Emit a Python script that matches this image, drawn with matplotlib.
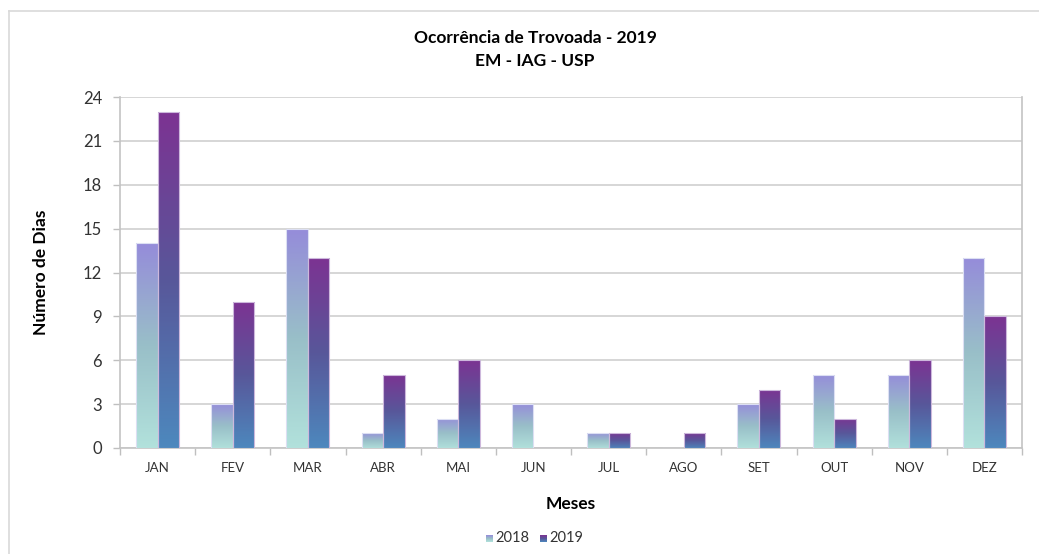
import numpy as np
import matplotlib
matplotlib.use("Agg")
import matplotlib.pyplot as plt
from matplotlib.colors import LinearSegmentedColormap
from matplotlib.lines import Line2D

plt.rcParams['font.family'] = ['Lato', 'DejaVu Sans']

months = ["JAN", "FEV", "MAR", "ABR", "MAI", "JUN", "JUL", "AGO", "SET", "OUT", "NOV", "DEZ"]
series_names = ["2018", "2019"]
values_2018 = [14, 3, 15, 1, 2, 3, 1, 0, 3, 5, 5, 13]
values_2019 = [23, 10, 13, 5, 6, 0, 1, 1, 4, 2, 6, 9]
yticks = [0, 3, 6, 9, 12, 15, 18, 21, 24]

cmap_2018 = LinearSegmentedColormap.from_list("c18", ["#b2e2dc", "#99bfc8", "#958bda"])
cmap_2019 = LinearSegmentedColormap.from_list("c19", ["#4d89be", "#58579a", "#7d3292"])

W, H = 1039, 554
fig = plt.figure(figsize=(W / 100, H / 100), dpi=100)
ax = fig.add_axes([120 / W, 1 - 448 / H, (1022 - 120) / W, (448 - 97) / H])

x = np.arange(len(months))
bw = 0.285
grad = np.linspace(0, 1, 256).reshape(-1, 1)

for vals, off, cmap, edge in [(values_2018, -bw / 2, cmap_2018, "#dcdff3"),
                              (values_2019, bw / 2, cmap_2019, "#cdb8dc")]:
    bars = ax.bar(x + off, vals, width=bw, facecolor="none", edgecolor=edge, lw=0.8, zorder=4)
    for b in bars:
        h = b.get_height()
        if h <= 0:
            continue
        x0 = b.get_x()
        im = ax.imshow(grad, cmap=cmap, origin="lower", aspect="auto",
                       extent=(x0 - 0.02, x0 + bw + 0.02, -0.1, h + 0.1), zorder=3,
                       interpolation="nearest")
        im.set_clip_path(b)

ax.set_xlim(-0.5, len(months) - 0.5)
ax.set_ylim(0, 24)
ax.set_yticks(yticks)
ax.set_yticklabels([str(t) for t in yticks], fontsize=12, color="#333333")
ax.set_xticks(x)
ax.set_xticklabels(months, fontsize=9.5, color="#333333")
ax.set_xticks(np.arange(-0.5, len(months)), minor=True)
ax.tick_params(axis="x", which="major", length=0, pad=10)
ax.tick_params(axis="x", which="minor", length=5, color="#bfbfbf", width=1)
ax.tick_params(axis="y", length=5, color="#bfbfbf", width=1, pad=8)
ax.grid(axis="y", color="#d0d0d0", lw=1.2, zorder=0)
ax.set_axisbelow(True)
for s in ["left", "right", "bottom"]:
    ax.spines[s].set_color("#c4c4c4")
    ax.spines[s].set_linewidth(1.2)
ax.spines["top"].set_visible(False)

ax.set_ylabel("Número de Dias", fontsize=12.5, fontweight="bold", labelpad=24)
ax.set_xlabel("Meses", fontsize=12.5, fontweight="bold", labelpad=16)

fig.text(535 / W, 1 - 38 / H, "Ocorrência de Trovoada - 2019", ha="center", va="center",
         fontsize=12.5, fontweight="bold")
fig.text(535 / W, 1 - 61 / H, "EM - IAG - USP", ha="center", va="center",
         fontsize=12.5, fontweight="bold")

# legend with gradient swatches
lax = fig.add_axes([0, 0, 1, 1], zorder=5)
for name, cmap, sx in [(series_names[0], cmap_2018, 486), (series_names[1], cmap_2019, 540)]:
    lax.imshow(grad, cmap=cmap, origin="lower", aspect="auto",
               extent=(sx, sx + 7, 542, 535), interpolation="nearest")
    lax.text(sx + 9, 538.5, name, ha="left", va="center", fontsize=10.5, color="#333333")
lax.set_xlim(0, W)
lax.set_ylim(H, 0)
lax.axis("off")

# outer chart border
fig.add_artist(Line2D([9 / W, 1], [1 - 11 / H, 1 - 11 / H], color="#d9d9d9", lw=1.2))
fig.add_artist(Line2D([9 / W, 9 / W], [0, 1 - 11 / H], color="#d9d9d9", lw=1.2))

fig.savefig("out.png", dpi=100)
